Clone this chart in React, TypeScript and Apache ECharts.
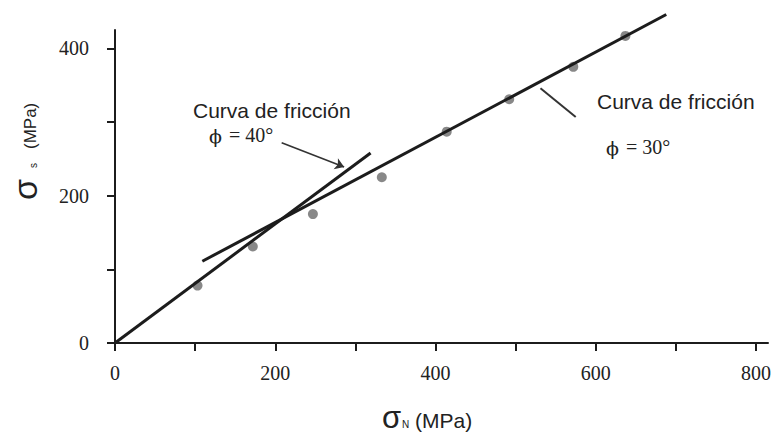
import React, { useEffect, useRef } from "react";
import * as echarts from "echarts";

// Data
const sigmaN = [103, 172, 247, 333, 414, 492, 572, 637];
const sigmaS = [78, 131, 175, 225, 287, 331, 375, 417];
const line40 = [[0, 0], [319, 258]];
const line30 = [[109, 111], [688, 446]];
const arrow40 = [[208, 272], [286, 239]];
const arrow30 = [[531, 346], [575, 307]];
const xTicks = [0, 100, 200, 300, 400, 500, 600, 700, 800];
const xLabels = [0, 200, 400, 600, 800];
const yTicks = [0, 100, 200, 300, 400];
const yLabels = [0, 200, 400];
const labelFriction = "Curva de fricción";
const phi = "ϕ";
const label40 = "= 40°";
const label30 = "= 30°";

const INK = "#1c1c1c";
const TXT = "#222";

function txt(x: number, y: number, text: string, font: string) {
  return {
    type: "text",
    x,
    y,
    style: { text, font, fill: TXT, align: "left", verticalAlign: "middle" },
  };
}

export default function App() {
  const ref = useRef<HTMLDivElement>(null);
  useEffect(() => {
    if (!ref.current) return;
    const chart = echarts.init(ref.current, undefined, { renderer: "svg" });
    const axisCommon = {
      type: "value" as const,
      min: 0,
      interval: 100,
      splitLine: { show: false },
      axisLine: { show: true, onZero: false, lineStyle: { color: INK, width: 2 } },
    };
    chart.setOption({
      animation: false,
      backgroundColor: "#ffffff",
      grid: { left: 115, right: 4, top: 30, bottom: 90 },
      xAxis: {
        ...axisCommon,
        max: 815,
        axisTick: { show: true, length: 8, customValues: xTicks, lineStyle: { color: INK, width: 2 } },
        axisLabel: {
          customValues: xLabels,
          fontFamily: "Liberation Serif",
          fontSize: 20,
          color: TXT,
          margin: 20,
        },
      },
      yAxis: {
        ...axisCommon,
        max: 425,
        axisTick: { show: true, length: 8, customValues: yTicks, lineStyle: { color: INK, width: 2 } },
        axisLabel: {
          customValues: yLabels,
          fontFamily: "Liberation Serif",
          fontSize: 20,
          color: TXT,
          margin: 26,
        },
      },
      series: [
        {
          type: "scatter",
          data: sigmaN.map((x, i) => [x, sigmaS[i]]),
          symbol: "circle",
          symbolSize: 10,
          itemStyle: { color: "#6a6a6a" },
          z: 1,
        },
        {
          type: "line",
          data: line30,
          symbol: "none",
          clip: false,
          lineStyle: { color: INK, width: 3 },
          z: 3,
        },
        {
          type: "line",
          data: line40,
          symbol: "none",
          clip: false,
          lineStyle: { color: INK, width: 3 },
          z: 3,
        },
        {
          type: "lines",
          coordinateSystem: "cartesian2d",
          symbol: ["none", "arrow"],
          symbolSize: 9,
          lineStyle: { color: "#333", width: 1.6, opacity: 1 },
          data: [{ coords: arrow40 }],
          z: 4,
        },
        {
          type: "lines",
          coordinateSystem: "cartesian2d",
          symbol: ["none", "none"],
          lineStyle: { color: "#333", width: 2, opacity: 1 },
          data: [{ coords: arrow30 }],
          z: 4,
        },
      ],
      graphic: [
        txt(193, 110, labelFriction, "21px 'Liberation Sans'"),
        txt(209, 136, phi, "19px 'DejaVu Serif'"),
        txt(229, 135, label40, "20px 'Liberation Serif'"),
        txt(597, 101, labelFriction, "21px 'Liberation Sans'"),
        txt(606, 148, phi, "19px 'DejaVu Serif'"),
        txt(626, 147, label30, "20px 'Liberation Serif'"),
        // x axis name: sigma_N (MPa), baseline ~427
        txt(382, 417, "σ", "31px 'Liberation Sans'"),
        txt(402, 424, "N", "10px 'Liberation Sans'"),
        txt(415, 420, "(MPa)", "21px 'Liberation Sans'"),
        // y axis name, rotated, baseline at x=36, starting at y=200
        {
          type: "group",
          x: 36,
          y: 200,
          rotation: Math.PI / 2,
          children: [
            txt(0, -11, "σ", "34px 'Liberation Sans'"),
            txt(32, -3, "s", "10px 'Liberation Sans'"),
            txt(51, -6, "(MPa)", "17px 'Liberation Sans'"),
          ],
        },
      ],
    });
    return () => chart.dispose();
  }, []);
  return <div ref={ref} style={{ width: 774, height: 433, position: "absolute", left: 0, top: 0 }} />;
}
